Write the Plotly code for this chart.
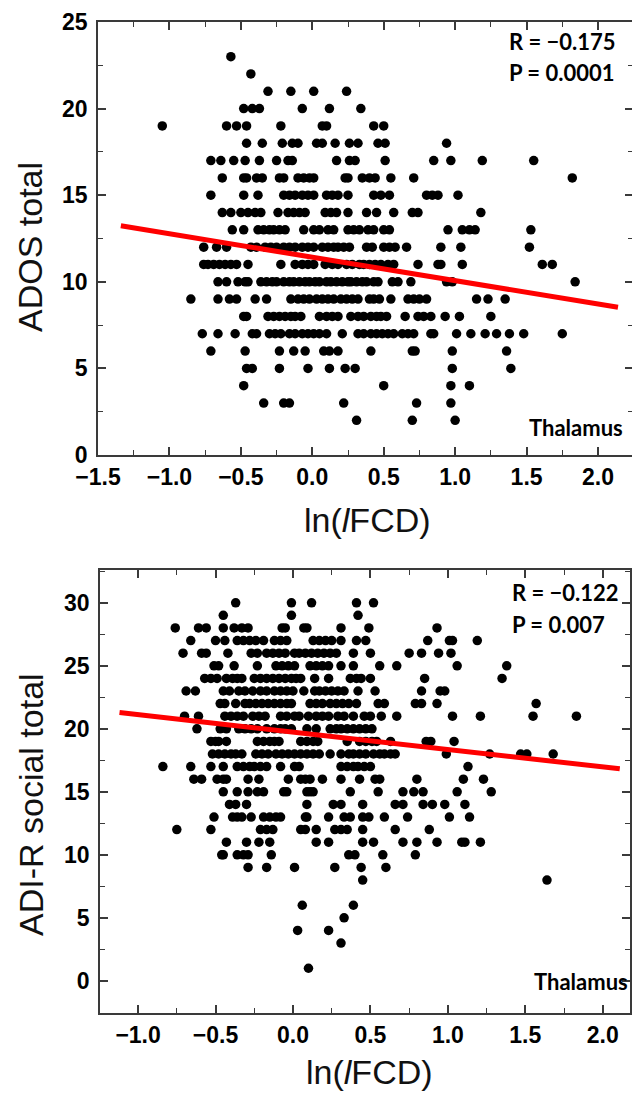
import plotly.graph_objects as go

# ---------------- Data: top panel (ADOS total vs ln(lFCD)) ----------------
ados_levels = [23, 22, 21, 20, 19, 18, 17, 16, 15, 14, 13, 12, 11, 10, 9, 8, 7, 6, 5, 4, 3, 2]
ados_x_by_level = [
    [-0.57],
    [-0.43],
    [-0.31, -0.15, 0.01, 0.24],
    [-0.48, -0.42, -0.37, -0.07, 0.12, 0.34],
    [-1.05, -0.60, -0.53, -0.46, -0.22, 0.07, 0.10, 0.43, 0.50],
    [-0.46, -0.35, -0.21, -0.14, -0.10, 0.03, 0.07, 0.16, 0.26, 0.32, 0.46, 0.51, 0.94],
    [-0.71, -0.64, -0.55, -0.47, -0.37, -0.25, -0.17, -0.14, 0.17, 0.26, 0.30, 0.51, 0.85, 0.97, 1.19, 1.55],
    [-0.63, -0.48, -0.46, -0.39, -0.35, -0.23, -0.20, -0.10, -0.06, -0.02, 0.01, 0.23, 0.25, 0.35, 0.40, 0.44, 0.55, 0.71, 1.82],
    [-0.71, -0.48, -0.38, -0.20, -0.16, -0.12, -0.07, -0.03, 0.01, 0.10, 0.14, 0.18, 0.25, 0.43, 0.48, 0.54, 0.80, 0.84, 0.88, 1.02],
    [-0.63, -0.57, -0.50, -0.45, -0.40, -0.36, -0.24, -0.17, -0.13, -0.09, -0.05, 0.09, 0.13, 0.17, 0.25, 0.38, 0.45, 0.57, 0.70, 0.74, 1.18],
    [-0.56, -0.48, -0.38, -0.34, -0.30, -0.27, -0.23, -0.19, -0.06, 0.01, 0.05, 0.11, 0.15, 0.25, 0.29, 0.33, 0.39, 0.43, 0.50, 0.54, 0.95, 1.05, 1.10, 1.14, 1.53],
    [-0.76, -0.67, -0.60, -0.43, -0.39, -0.33, -0.29, -0.25, -0.20, -0.16, -0.12, -0.07, -0.03, 0.01, 0.07, 0.11, 0.15, 0.18, 0.22, 0.26, 0.38, 0.42, 0.50, 0.54, 0.58, 0.66, 0.90, 1.04, 1.52],
    [-0.76, -0.73, -0.69, -0.65, -0.61, -0.57, -0.53, -0.45, -0.22, -0.12, -0.07, -0.03, 0.01, 0.09, 0.14, 0.18, 0.24, 0.28, 0.33, 0.36, 0.40, 0.44, 0.48, 0.53, 0.57, 0.74, 0.88, 0.90, 1.05, 1.61, 1.68],
    [-0.66, -0.60, -0.52, -0.47, -0.45, -0.36, -0.32, -0.28, -0.25, -0.20, -0.16, -0.13, -0.09, -0.05, -0.02, 0.02, 0.05, 0.10, 0.13, 0.17, 0.21, 0.25, 0.27, 0.31, 0.35, 0.38, 0.43, 0.46, 0.56, 0.60, 0.69, 0.94, 0.98, 1.84],
    [-0.85, -0.66, -0.58, -0.53, -0.40, -0.32, -0.15, -0.10, -0.06, -0.02, 0.03, 0.07, 0.11, 0.15, 0.20, 0.24, 0.28, 0.32, 0.40, 0.43, 0.47, 0.55, 0.67, 0.71, 0.75, 0.80, 1.15, 1.23, 1.35],
    [-0.48, -0.46, -0.31, -0.27, -0.23, -0.19, -0.15, -0.12, -0.08, 0.05, 0.10, 0.14, 0.18, 0.27, 0.32, 0.36, 0.41, 0.45, 0.48, 0.52, 0.65, 0.74, 0.78, 0.83, 0.93, 1.03, 1.25],
    [-0.77, -0.66, -0.54, -0.42, -0.39, -0.30, -0.26, -0.22, -0.16, -0.12, -0.07, -0.03, 0.01, 0.05, 0.10, 0.21, 0.32, 0.36, 0.41, 0.45, 0.49, 0.53, 0.57, 0.63, 0.67, 0.71, 0.83, 0.85, 1.01, 1.11, 1.21, 1.29, 1.38, 1.48, 1.75],
    [-0.71, -0.47, -0.23, -0.13, -0.05, 0.08, 0.12, 0.18, 0.41, 0.70, 0.72, 0.98, 1.36],
    [-0.46, -0.42, -0.23, -0.03, 0.12, 0.23, 0.30, 0.98, 1.39],
    [-0.48, 0.50, 0.97, 1.10],
    [-0.34, -0.20, -0.16, 0.22, 0.73, 0.97],
    [0.31, 0.70, 1.00],
]
ados_fit_intercept = 11.42
ados_fit_slope = -1.352
ados_fit_x = [-1.34, 2.14]
ados_stats = ["R = \u22120.175", "P = 0.0001"]

# ---------------- Data: bottom panel (ADI-R social total) ----------------
adi_levels = [30, 29, 28, 27, 26, 25, 24, 23, 22, 21, 20, 19, 18, 17, 16, 15, 14, 13, 12, 11, 10, 9, 8, 6, 5, 4, 3, 1]
adi_x_by_level = [
    [-0.37, -0.01, 0.12, 0.41, 0.52],
    [-0.45, -0.01, 0.42],
    [-0.76, -0.61, -0.56, -0.45, -0.38, -0.33, -0.29, -0.07, -0.05, 0.07, 0.09, 0.31, 0.49, 0.93],
    [-0.66, -0.50, -0.44, -0.36, -0.32, -0.28, -0.24, -0.19, -0.12, -0.08, -0.04, 0.13, 0.17, 0.21, 0.25, 0.31, 0.41, 0.47, 0.87, 1.01, 1.03, 1.19],
    [-0.71, -0.59, -0.56, -0.42, -0.27, -0.23, -0.17, -0.13, -0.09, -0.05, 0.01, 0.04, 0.08, 0.12, 0.16, 0.20, 0.24, 0.28, 0.39, 0.50, 0.75, 0.83, 0.94, 1.02],
    [-0.51, -0.48, -0.38, -0.23, -0.11, -0.07, -0.03, 0.01, 0.11, 0.15, 0.19, 0.23, 0.31, 0.39, 0.56, 0.67, 1.06, 1.38],
    [-0.57, -0.53, -0.49, -0.43, -0.39, -0.36, -0.33, -0.25, -0.21, -0.17, -0.13, -0.09, -0.05, -0.01, 0.02, 0.05, 0.14, 0.23, 0.37, 0.41, 0.44, 0.50, 0.85, 1.35],
    [-0.69, -0.63, -0.45, -0.41, -0.35, -0.31, -0.26, -0.21, -0.17, -0.12, -0.08, -0.04, 0.00, 0.07, 0.14, 0.17, 0.21, 0.25, 0.29, 0.33, 0.42, 0.53, 0.83, 0.95, 0.98],
    [-0.47, -0.44, -0.37, -0.31, -0.28, -0.24, -0.20, -0.16, -0.12, -0.08, -0.04, -0.01, 0.11, 0.15, 0.19, 0.24, 0.28, 0.32, 0.36, 0.41, 0.55, 0.59, 0.79, 0.83, 0.93, 1.57],
    [-0.70, -0.61, -0.44, -0.40, -0.36, -0.32, -0.26, -0.22, -0.18, -0.08, -0.04, 0.01, 0.04, 0.10, 0.15, 0.19, 0.23, 0.29, 0.33, 0.39, 0.46, 0.50, 0.57, 0.67, 1.03, 1.21, 1.55, 1.83],
    [-0.62, -0.47, -0.43, -0.35, -0.31, -0.27, -0.23, -0.17, -0.12, -0.08, -0.05, -0.01, 0.09, 0.15, 0.24, 0.28, 0.31, 0.35, 0.39, 0.43, 0.47, 0.51],
    [-0.53, -0.50, -0.48, -0.43, -0.23, -0.19, -0.15, -0.12, -0.09, 0.05, 0.09, 0.13, 0.16, 0.35, 0.43, 0.47, 0.51, 0.54, 0.63, 0.86, 0.89, 1.04],
    [-0.52, -0.48, -0.44, -0.40, -0.37, -0.33, -0.24, -0.20, -0.16, -0.11, -0.07, -0.03, 0.01, 0.05, 0.09, 0.13, 0.17, 0.24, 0.31, 0.36, 0.39, 0.43, 0.47, 0.52, 0.56, 0.59, 0.63, 0.66, 0.99, 1.27, 1.47, 1.51, 1.68],
    [-0.84, -0.66, -0.53, -0.45, -0.36, -0.32, -0.28, -0.25, -0.21, -0.17, -0.08, 0.01, 0.04, 0.31, 0.35, 0.39, 0.42, 0.46, 0.50, 1.13],
    [-0.64, -0.59, -0.49, -0.45, -0.43, -0.29, -0.22, -0.03, 0.05, 0.08, 0.11, 0.19, 0.31, 0.43, 0.53, 0.56, 0.80, 1.10, 1.23],
    [-0.45, -0.36, -0.29, -0.23, -0.19, -0.06, -0.04, 0.09, 0.11, 0.13, 0.37, 0.55, 0.71, 0.78, 0.84, 1.06, 1.28],
    [-0.41, -0.37, -0.30, 0.09, 0.26, 0.31, 0.45, 0.66, 0.71, 0.84, 0.90, 0.98, 1.11],
    [-0.51, -0.39, -0.36, -0.33, -0.27, -0.19, -0.15, -0.11, -0.08, 0.08, 0.09, 0.23, 0.33, 0.37, 0.45, 0.49, 0.59, 0.74, 1.01, 1.14],
    [-0.75, -0.53, -0.21, -0.17, -0.13, 0.05, 0.08, 0.15, 0.27, 0.31, 0.35, 0.45, 0.66, 0.88],
    [-0.43, -0.30, -0.22, -0.15, 0.15, 0.23, 0.45, 0.52, 0.71, 0.80, 0.93, 1.09, 1.11, 1.21],
    [-0.46, -0.45, -0.36, -0.32, -0.29, -0.14, 0.36, 0.40, 0.58, 0.79],
    [-0.29, -0.17, 0.01, 0.27, 0.44, 0.60],
    [0.45, 1.64],
    [0.06, 0.39],
    [0.33],
    [0.03, 0.23],
    [0.31],
    [0.10],
]
adi_fit_intercept = 19.74
adi_fit_slope = -1.381
adi_fit_x = [-1.12, 2.11]
adi_stats = ["R = \u22120.122", "P = 0.007"]

region_label = "Thalamus"
x_title = "ln(<i>l</i>FCD)"
ados_title = "ADOS total"
adi_title = "ADI-R social total"


def flatten(levels, xs_by_level):
    xs, ys = [], []
    for lv, xs_row in zip(levels, xs_by_level):
        for xv in xs_row:
            xs.append(xv)
            ys.append(lv)
    return xs, ys


ados_x, ados_y = flatten(ados_levels, ados_x_by_level)
adi_x, adi_y = flatten(adi_levels, adi_x_by_level)

# The page body has an 8px margin, so the figure is sized to fill the rest of
# the 640x1093 window and every target pixel position is shifted by OFF.
OFF = 8
W, H = 640 - OFF, 1093 - OFF


def px(v):
    return (v - OFF) / W


def py(v):
    return 1 - (v - OFF) / H


fig = go.Figure()

marker = dict(color="black", size=9.5, line=dict(width=0))
fig.add_trace(go.Scatter(x=ados_x, y=ados_y, mode="markers", marker=marker,
                         xaxis="x", yaxis="y", showlegend=False))
fig.add_trace(go.Scatter(x=ados_fit_x,
                         y=[ados_fit_intercept + ados_fit_slope * v for v in ados_fit_x],
                         mode="lines", line=dict(color="#ff0000", width=5),
                         xaxis="x", yaxis="y", showlegend=False))
fig.add_trace(go.Scatter(x=adi_x, y=adi_y, mode="markers", marker=marker,
                         xaxis="x2", yaxis="y2", showlegend=False))
fig.add_trace(go.Scatter(x=adi_fit_x,
                         y=[adi_fit_intercept + adi_fit_slope * v for v in adi_fit_x],
                         mode="lines", line=dict(color="#ff0000", width=5),
                         xaxis="x2", yaxis="y2", showlegend=False))

axis_col = "#3a3a3a"
tickfont = dict(family="Liberation Sans", size=23, color="black", weight="bold")
common = dict(showline=True, linecolor=axis_col, linewidth=1.6, mirror="ticks",
              ticks="inside", ticklen=8, tickwidth=1.6, tickcolor=axis_col,
              showgrid=False, zeroline=False, tickfont=tickfont, automargin=False,
              ticklabeloverflow="allow")

# pixel boxes in the 640x1093 target
top_box = dict(l=98, r=633, t=22, b=455)
bot_box = dict(l=100, r=630, t=570, b=1013)

fig.update_layout(
    template="none",
    width=W, height=H,
    margin=dict(l=0, r=0, t=0, b=0, pad=0),
    paper_bgcolor="white", plot_bgcolor="white",
    xaxis=dict(domain=[px(top_box["l"]), px(top_box["r"])], range=[-1.5, 2.245],
               tick0=-1.5, dtick=0.5, tickformat=".1f", ticklabelstandoff=1,
               minor=dict(dtick=0.25, tick0=-1.5, ticks="inside", ticklen=5, tickwidth=1.4, tickcolor=axis_col),
               anchor="y", **common),
    yaxis=dict(domain=[py(top_box["b"]), py(top_box["t"])], range=[0, 25],
               tick0=0, dtick=5, ticklabelstandoff=4,
               minor=dict(dtick=2.5, tick0=0, ticks="inside", ticklen=5, tickwidth=1.4, tickcolor=axis_col),
               anchor="x", **common),
    xaxis2=dict(domain=[px(bot_box["l"]), px(bot_box["r"])], range=[-1.246, 2.176],
                tick0=-1.0, dtick=0.5, tickformat=".1f", ticklabelstandoff=1,
                minor=dict(dtick=0.25, tick0=-1.0, ticks="inside", ticklen=5, tickwidth=1.4, tickcolor=axis_col),
                anchor="y2", **common),
    yaxis2=dict(domain=[py(bot_box["b"]), py(bot_box["t"])], range=[-2.55, 32.6],
                tick0=0, dtick=5, ticklabelstandoff=4,
                minor=dict(dtick=2.5, tick0=0, ticks="inside", ticklen=5, tickwidth=1.4, tickcolor=axis_col),
                anchor="x2", **common),
)

stat_font = dict(family="Lato", size=22, color="black", weight="bold")
title_font = dict(family="Liberation Sans", size=34, color="#111111")
ytitle_font = dict(family="Liberation Sans", size=34, color="#111111")

ann = []
# stats top
ann.append(dict(x=0.7645, y=0.954, xref="x domain", yref="y domain", text=ados_stats[0],
                showarrow=False, xanchor="left", yanchor="middle", font=stat_font))
ann.append(dict(x=0.7645, y=0.884, xref="x domain", yref="y domain", text=ados_stats[1],
                showarrow=False, xanchor="left", yanchor="middle", font=stat_font))
ann.append(dict(x=0.985, y=0.064, xref="x domain", yref="y domain", text=region_label,
                showarrow=False, xanchor="right", yanchor="middle", font=stat_font))
# stats bottom
ann.append(dict(x=0.7727, y=0.950, xref="x2 domain", yref="y2 domain", text=adi_stats[0],
                showarrow=False, xanchor="left", yanchor="middle", font=stat_font))
ann.append(dict(x=0.7727, y=0.878, xref="x2 domain", yref="y2 domain", text=adi_stats[1],
                showarrow=False, xanchor="left", yanchor="middle", font=stat_font))
ann.append(dict(x=1.0, y=0.070, xref="x2 domain", yref="y2 domain", text=region_label,
                showarrow=False, xanchor="right", yanchor="middle", font=stat_font))
# axis titles
ann.append(dict(x=px(367), y=py(520), xref="paper", yref="paper", text=x_title,
                showarrow=False, xanchor="center", yanchor="middle", font=title_font))
ann.append(dict(x=px(369), y=py(1072), xref="paper", yref="paper", text=x_title,
                showarrow=False, xanchor="center", yanchor="middle", font=title_font))
ann.append(dict(x=px(30), y=py(247), xref="paper", yref="paper", text=ados_title,
                showarrow=False, xanchor="center", yanchor="middle", textangle=-90, font=ytitle_font))
ann.append(dict(x=px(31), y=py(805), xref="paper", yref="paper", text=adi_title,
                showarrow=False, xanchor="center", yanchor="middle", textangle=-90, font=ytitle_font))
fig.update_layout(annotations=ann)

fig.write_html("out.html")
